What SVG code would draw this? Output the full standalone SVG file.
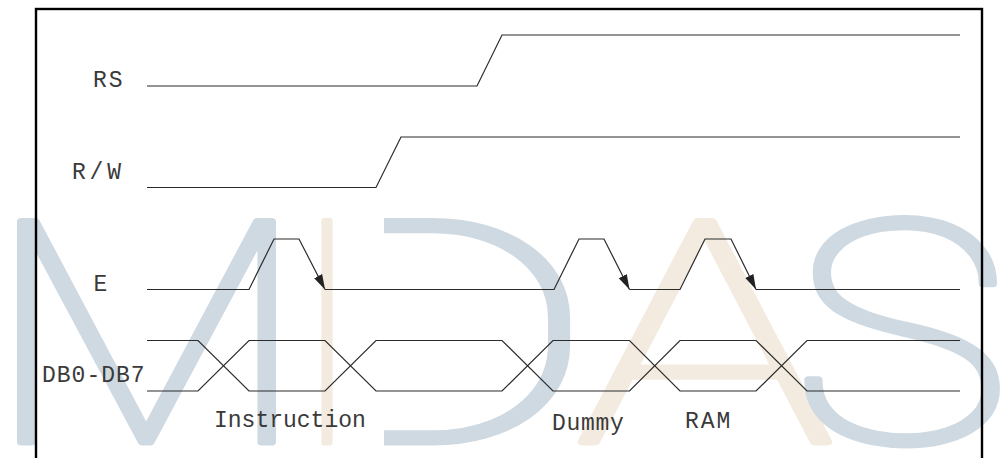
<svg xmlns="http://www.w3.org/2000/svg" width="1000" height="458" viewBox="0 0 1000 458">
  <style>
    .wm { font-family: Roboto, Lato, "Open Sans", sans-serif; font-weight: 100; font-size: 310px; text-anchor: middle; stroke-width: 7; stroke-linejoin: round; }
    .wb { fill: #cfd9e1; stroke: #cfd9e1; }
    .wo { fill: #f3ebdf; stroke: #f3ebdf; }
    .sig { fill: none; stroke: #2b2b2b; stroke-width: 1.2; }
    .lbl { font-family: "Liberation Mono", "DejaVu Sans Mono", monospace; font-size: 23px; fill: #3a3a3a; }
  </style>
  <defs>
    <marker id="ah" markerUnits="userSpaceOnUse" markerWidth="16" markerHeight="10" refX="15" refY="5" orient="auto">
      <path d="M0,0.5 L15,5 L0,9.5 Z" fill="#222"/>
    </marker>
    <clipPath id="dclip">
      <rect x="384" y="150" width="300" height="308"/>
    </clipPath>
  </defs>
  <rect width="1000" height="458" fill="#fff"/>

  <g id="watermark">
    <text class="wm wb" transform="translate(146.5,442) scale(1.22,1)">M</text>
    <text class="wm wo" transform="translate(327,442) scale(0.75,1)">I</text>
    <g clip-path="url(#dclip)">
      <text class="wm wb" transform="translate(447,442) scale(1.46,1)">D</text>
    </g>
    <text class="wm wo" transform="translate(705,442) scale(1.4,1)">A</text>
    <text class="wm wb" transform="translate(901,442) scale(1.2,1)">S</text>
  </g>

  <rect id="frame" x="36" y="9" width="946" height="470" fill="none" stroke="#000" stroke-width="2.4"/>

  <g id="labels">
    <text class="lbl" x="93" y="87" letter-spacing="2">RS</text>
    <text class="lbl" x="72" y="178.5" letter-spacing="3.8">R/W</text>
    <text class="lbl" x="93.5" y="291">E</text>
    <text class="lbl" x="42" y="382" letter-spacing="1">DB0-DB7</text>
    <text class="lbl" x="214" y="427">Instruction</text>
    <text class="lbl" x="552" y="430" letter-spacing="0.7">Dummy</text>
    <text class="lbl" x="685" y="428" letter-spacing="2">RAM</text>
  </g>

  <g id="connectors">
    <path id="rs" class="sig" d="M147,86 H477 L502,35 H960"/>
    <path id="rw" class="sig" d="M147,187.5 H376 L401,137 H960"/>
    <g id="e">
      <path class="sig" d="M147,289.5 H249 L274,239 H299 L325,289.5" marker-end="url(#ah)"/>
      <path class="sig" d="M325,289.5 H554 L579,239 H604 L629.5,289.5" marker-end="url(#ah)"/>
      <path class="sig" d="M629.5,289.5 H680 L705,239 H731 L756,289.5" marker-end="url(#ah)"/>
      <path class="sig" d="M756,289.5 H960"/>
    </g>
    <g id="db">
      <path class="sig" d="M147,340.5 H198 L249,391 H325 L376,340.5 H502 L553,391 H629.5 L680,340.5 H756 L807,391 H960"/>
      <path class="sig" d="M147,391 H198 L249,340.5 H325 L376,391 H502 L553,340.5 H629.5 L680,391 H756 L807,340.5 H960"/>
    </g>
  </g>
</svg>
